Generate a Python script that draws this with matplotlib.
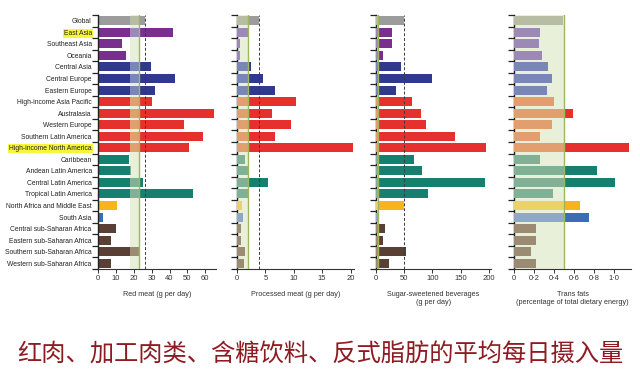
import matplotlib
matplotlib.use("Agg")
import matplotlib.pyplot as plt
import numpy as np

regions = ["Global", "East Asia", "Southeast Asia", "Oceania", "Central Asia",
           "Central Europe", "Eastern Europe", "High-income Asia Pacific",
           "Australasia", "Western Europe", "Southern Latin America",
           "High-income North America", "Caribbean", "Andean Latin America",
           "Central Latin America", "Tropical Latin America",
           "North Africa and Middle East", "South Asia",
           "Central sub-Saharan Africa", "Eastern sub-Saharan Africa",
           "Southern sub-Saharan Africa", "Western sub-Saharan Africa"]
highlighted = ["East Asia", "High-income North America"]

groups = ["global", "asia", "asia", "asia", "europe", "europe", "europe",
          "highinc", "highinc", "highinc", "highinc", "highinc",
          "latam", "latam", "latam", "latam", "name", "sasia",
          "ssa", "ssa", "ssa", "ssa"]
group_colors = {"global": "#9c9c9c", "asia": "#7a2f8f", "europe": "#2f3a8e",
                "highinc": "#e5302d", "latam": "#168070", "name": "#f6b51f",
                "sasia": "#3b6db6", "ssa": "#5a4034"}
pale_colors = {"global": "#b6bda3", "asia": "#9d89b5", "europe": "#7886b8",
               "highinc": "#e39e70", "latam": "#80b196", "name": "#ecd06a",
               "sasia": "#8ea8c5", "ssa": "#9b8b72"}

red_meat = [26.5, 41.8, 13.7, 15.4, 29.6, 43.3, 31.9, 30.0, 65.1, 48.0, 58.7,
            50.8, 17.1, 18.2, 25.0, 53.1, 10.7, 2.8, 9.8, 7.5, 22.9, 7.1]
processed_meat = [3.8, 2.0, 0.6, 0.5, 2.4, 4.5, 6.7, 10.4, 6.1, 9.5, 6.7,
                  20.4, 1.4, 2.0, 5.4, 2.2, 0.8, 1.1, 0.7, 0.65, 1.4, 1.2]
ssb = [49, 27.5, 27.5, 12, 45, 99, 35, 63, 80, 89, 140, 196, 67, 82, 193, 92,
       50, 4, 16, 12, 54, 23]
trans_fats = [0.49, 0.26, 0.25, 0.28, 0.34, 0.38, 0.33, 0.40, 0.585, 0.38,
              0.26, 1.15, 0.26, 0.83, 1.01, 0.39, 0.66, 0.75, 0.22, 0.22,
              0.17, 0.22]

panels = [
    dict(values=red_meat, band=(18, 23), opt=23, dashed=True,
         xticks=[0, 10, 20, 30, 40, 50, 60], xticklabels=["0", "10", "20", "30", "40", "50", "60"],
         xlim=(0, 66), label="Red meat (g per day)"),
    dict(values=processed_meat, band=(0, 2), opt=2, dashed=True,
         xticks=[0, 5, 10, 15, 20], xticklabels=["0", "5", "10", "15", "20"],
         xlim=(0, 20.6), label="Processed meat (g per day)"),
    dict(values=ssb, band=(0, 3), opt=3, dashed=True,
         xticks=[0, 50, 100, 150, 200], xticklabels=["0", "50", "100", "150", "200"],
         xlim=(0, 204), label="Sugar-sweetened beverages\n(g per day)"),
    dict(values=trans_fats, band=(0, 0.5), opt=0.5, dashed=False,
         xticks=[0, 0.2, 0.4, 0.6, 0.8, 1.0], xticklabels=["0", "0·2", "0·4", "0·6", "0·8", "1·0"],
         xlim=(0, 1.17), label="Trans fats\n(percentage of total dietary energy)"),
]

# axes pixel positions (left, right) in a 640x390 figure
px_pos = [(98, 216), (237, 354), (376, 491), (514, 631)]
top_px, bot_px = 15, 269
W, H = 640, 390

plt.rcParams['font.family'] = ['Liberation Sans', 'DejaVu Sans']
fig = plt.figure(figsize=(6.4, 3.9), dpi=100)

y = np.arange(len(regions))
colors = [group_colors[g] for g in groups]
pales = [pale_colors[g] for g in groups]
band_color = "#e8f0da"
opt_color = "#9fb65a"

for i, (p, (l, r)) in enumerate(zip(panels, px_pos)):
    ax = fig.add_axes([l / W, 1 - bot_px / H, (r - l) / W, (bot_px - top_px) / H])
    vals = np.array(p["values"], dtype=float)
    lo, hi = p["band"]
    ax.axvspan(lo, hi, color=band_color, lw=0, zorder=1)
    ax.barh(y, vals, height=0.78, color=colors, zorder=2, lw=0)
    inside = np.clip(vals, lo, hi) - lo
    ax.barh(y, inside, left=lo, height=0.78, color=pales, zorder=3, lw=0)
    ax.axvline(p["opt"], color=opt_color, lw=1.0, zorder=4)
    if p["dashed"]:
        ax.axvline(vals[0], color="#3a3a3a", lw=0.7, ls=(0, (3, 2)), zorder=4)
    ax.set_ylim(len(regions) - 0.5, -0.5)
    ax.set_xlim(*p["xlim"])
    ax.set_xticks(p["xticks"])
    ax.set_xticklabels(p["xticklabels"], fontsize=5.5, color="#333333")
    ax.tick_params(axis="x", length=3, width=0.7, pad=1.5, colors="#333333")
    ax.set_yticks(np.arange(-0.5, len(regions), 1.0), minor=True)
    ax.tick_params(axis="y", which="minor", length=4, width=0.9, color="#222222")
    ax.set_yticks(y)
    if i == 0:
        ax.set_yticklabels(regions, fontsize=4.9, color="#222222")
        for lab in ax.get_yticklabels():
            if lab.get_text() in highlighted:
                lab.set_bbox(dict(facecolor="#f7f53a", edgecolor="none", pad=0.6))
    else:
        ax.set_yticklabels([])
    ax.tick_params(axis="y", which="major", length=0, pad=4.5)
    for s in ["top", "right"]:
        ax.spines[s].set_visible(False)
    ax.spines["left"].set_linewidth(1.0)
    ax.spines["bottom"].set_linewidth(0.8)
    ax.spines["left"].set_color("#222222")
    ax.spines["bottom"].set_color("#333333")
    ax.set_xlabel(p["label"], fontsize=5.2, color="#333333", labelpad=6)

fig.text(0.5, 1 - 355 / H, "红肉、加工肉类、含糖饮料、反式脂肪的平均每日摄入量",
         ha="center", va="center", fontsize=17.5, color="#8e1b22",
         family=["Noto Sans CJK SC", "DejaVu Sans"])

fig.savefig("out.png", dpi=100, facecolor="white")
